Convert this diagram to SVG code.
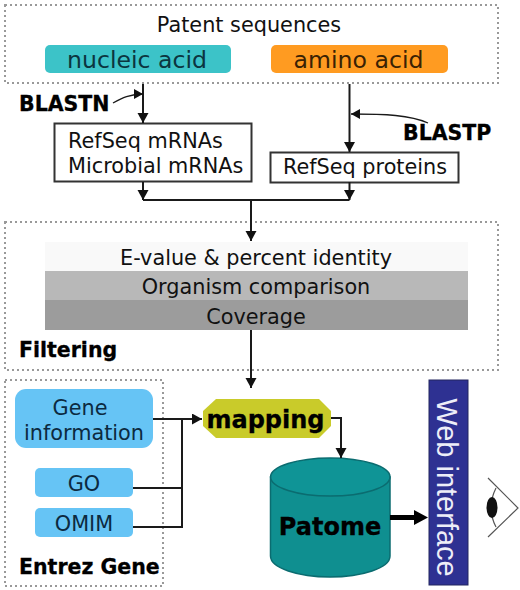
<svg xmlns="http://www.w3.org/2000/svg" width="520" height="590" viewBox="0 0 520 590">
<style>
text{font-family:"DejaVu Sans",Verdana,sans-serif;fill:#111;text-anchor:middle}
.b{font-weight:bold;fill:#000;text-anchor:start;font-size:20.5px;stroke:#000;stroke-width:.3}
.dot{fill:none;stroke:#999;stroke-width:2;stroke-dasharray:2 3}
.ln{fill:none;stroke:#1a1a1a;stroke-width:2}
.thin{fill:none;stroke:#1a1a1a;stroke-width:1.300}
.eye{fill:none;stroke:#555;stroke-width:1.200}
.box{fill:#fff;stroke:#333;stroke-width:2}
.blue{fill:#66c4f5}
.t{font-size:20.800px}
.big{font-size:23.600px}
.bt{font-size:24px;font-weight:bold;fill:#000;stroke:#000;stroke-width:.3}
.dk{fill:#0c2a40}
</style>
<defs>
<marker id="a" markerUnits="userSpaceOnUse" markerWidth="12" markerHeight="12" refX="10" refY="5.500" orient="auto"><path d="M0 0L10 5.500L0 11Z" fill="#111"/></marker>
<marker id="s" markerUnits="userSpaceOnUse" markerWidth="12" markerHeight="12" refX="9" refY="5" orient="auto"><path d="M0 0L9 5L0 10Z" fill="#111"/></marker>
</defs>
<g id="patent-group">
<rect class="dot" x="5" y="5" width="493" height="78"/>
<text class="t" x="249" y="32">Patent sequences</text>
</g>
<g id="nucleic-acid"><rect x="45" y="45" width="186" height="28" rx="5" fill="#3cc3c8"/><text class="big" x="137" y="68" style="fill:#0b3540">nucleic acid</text></g>
<g id="amino-acid"><rect x="271" y="45" width="177" height="28" rx="5" fill="#ff9b21"/><text class="big" x="358.500" y="68" style="fill:#3a2204">amino acid</text></g>
<g id="refseq-mrnas"><rect class="box" x="54.500" y="123.500" width="197" height="58"/><text class="t" x="68" y="148" style="text-anchor:start">RefSeq mRNAs</text><text class="t" x="68" y="172.500" style="text-anchor:start">Microbial mRNAs</text></g>
<g id="refseq-proteins"><rect class="box" x="270.500" y="152.500" width="188" height="30"/><text class="t" x="365" y="174">RefSeq proteins</text></g>
<g id="blastn"><text class="b" x="19" y="111">BLASTN</text></g>
<g id="blastp"><text class="b" x="403" y="140">BLASTP</text></g>
<g id="filtering-group">
<rect class="dot" x="5" y="222" width="493" height="148"/>
<text class="b" x="19" y="357">Filtering</text>
</g>
<g id="evalue"><rect x="45" y="242" width="423" height="29" fill="#f9f9f9"/><text class="t" x="256" y="265">E-value &amp; percent identity</text></g>
<g id="organism"><rect x="45" y="271" width="423" height="29" fill="#b8b8b8"/><text class="t" x="256" y="294">Organism comparison</text></g>
<g id="coverage"><rect x="45" y="300" width="423" height="30" fill="#9c9c9c"/><text class="t" x="256" y="324">Coverage</text></g>
<g id="entrez-group">
<rect class="dot" x="5" y="380" width="158" height="206"/>
<text class="b" x="19" y="574">Entrez Gene</text>
</g>
<g id="gene-information"><rect class="blue" x="15" y="389" width="138" height="59" rx="11"/><text class="t dk" x="80" y="415" style="fill:#0c2a40">Gene</text><text class="t" x="84" y="440" style="fill:#0c2a40">information</text></g>
<g id="go"><rect class="blue" x="35" y="468" width="98" height="29" rx="5"/><text class="t" x="84" y="491" style="fill:#0c2a40">GO</text></g>
<g id="omim"><rect class="blue" x="35" y="508" width="98" height="29" rx="5"/><text class="t" x="84" y="531" style="fill:#0c2a40">OMIM</text></g>
<g id="mapping"><path d="M216 399H319L331 411V426L319 438H216L203 426V411Z" fill="#c9cb2a"/><text class="bt" x="265.500" y="428">mapping</text></g>
<g id="patome">
<path d="M270.500 477V556C270.500 568 298 577 330 577C362 577 390 568 390 556V477Z" fill="#0f8f90" stroke="#0b6c70" stroke-width="1.500"/>
<ellipse cx="330.300" cy="477" rx="59.700" ry="19" fill="#0f9496" stroke="#0b6c70" stroke-width="1.500"/>
<text class="bt" x="330" y="535">Patome</text>
</g>
<g id="web-interface"><rect x="429" y="380" width="39" height="205" fill="#2e3192" stroke="#23265f"/><text transform="translate(436.500 487.500) rotate(90)" font-size="29" style="font-family:'Liberation Sans',Arial,sans-serif;fill:#eeeef8;text-anchor:middle">Web interface</text></g>
<g id="eye">
<path class="eye" d="M488 478L518 508L488 537M496 488Q486 508 496 527"/>
<ellipse cx="492" cy="507.500" rx="5.500" ry="10.500" fill="#111"/>
</g>
<g id="connectors">
<path class="ln" d="M143 84V123" marker-end="url(#a)"/>
<path class="ln" d="M349.500 84V152" marker-end="url(#a)"/>
<path class="thin" d="M113 103C122 98 130 94 143 94" marker-end="url(#s)"/>
<path class="thin" d="M428 123C410 115 385 114 351 114" marker-end="url(#s)"/>
<path class="ln" d="M143 200H349.500M251 200V241" marker-end="url(#a)"/>
<path class="ln" d="M143 182V200" marker-end="url(#a)"/>
<path class="ln" d="M349.500 182V200" marker-end="url(#a)"/>
<path class="ln" d="M251 330V388" marker-end="url(#a)"/>
<path class="ln" d="M153 419H202" marker-end="url(#a)"/>
<path class="ln" d="M133 488H182M133 527H182V419"/>
<path class="ln" d="M331 418H341V458" marker-end="url(#a)"/>
<path d="M390 515H414V510L428 517.500L414 525V520H390Z" fill="#000"/>
</g>
</svg>
